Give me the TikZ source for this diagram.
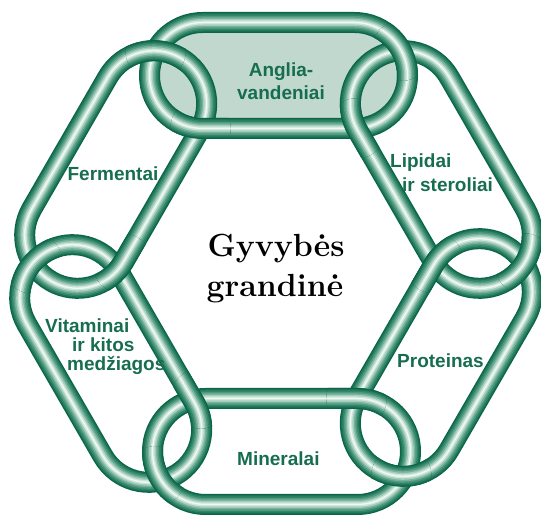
\documentclass[tikz,border=0pt]{standalone}
\usepackage{fontspec}
\newfontfamily\labelfont{Liberation Sans}
\definecolor{tA}{HTML}{0A654A}
\definecolor{tB}{HTML}{1B7459}
\definecolor{tC}{HTML}{338566}
\definecolor{tD}{HTML}{4F9A7E}
\definecolor{tE}{HTML}{76B29B}
\definecolor{tF}{HTML}{A3CDBC}
\definecolor{tG}{HTML}{CDE5DB}
\definecolor{tH}{HTML}{EEF7F3}
\definecolor{labelgreen}{HTML}{176D51}
\definecolor{linkfill}{HTML}{C0D8CE}
\newcommand{\tubepath}{(-76,-53) -- (76,-53) arc[start angle=-90,end angle=90,radius=53pt] -- (-76,53) arc[start angle=90,end angle=270,radius=53pt] -- cycle}
\newcommand{\drawtube}{\foreach \w/\c in {21/tA,18.5/tB,16/tC,13/tD,10/tE,7/tF,4/tG,1.5/tH}{\draw[line width=\w pt,color=\c] \tubepath;}}
\tikzset{
  linklabel/.style={font=\labelfont\bfseries\fontsize{19}{19}\selectfont, text=labelgreen, inner sep=0pt},
  centertitle/.style={font=\bfseries\fontsize{32}{40}\selectfont, text=black, inner sep=0pt}
}
\begin{document}
\begin{tikzpicture}[x=1pt,y=1pt]
\useasboundingbox (0,0) rectangle (541,522);
\coordinate (HC) at (278.5,258.5);
% fill of the top link
\begin{scope}[shift={(HC)}, shift={(0,188)}]
  \fill[linkfill] \tubepath;
\end{scope}
% all six links
\foreach \k/\dx/\dy in {0/0/0,1/0/0,2/0/0,3/3/0,4/-5/-6,5/0/0}{
  \begin{scope}[shift={(HC)}, shift={(\dx,\dy)}, rotate=-60*\k, shift={(0,188)}]
    \drawtube
  \end{scope}
}
% interlocking crossings
\foreach \k/\ax/\ay/\bx/\by in {0/0/0/0/0,1/0/0/0/0,2/0/0/3/0,3/3/0/-5/-6,4/-5/-6/0/0,5/0/0/0/0}{
  \begin{scope}[shift={(HC)}]
    \begin{scope}
      \clip (60-60*\k:245.7) circle[radius=30pt];
      \begin{scope}[shift={(\ax,\ay)}, rotate=-60*\k, shift={(0,188)}]
        \drawtube
      \end{scope}
    \end{scope}
    \begin{scope}
      \clip (60-60*\k:155.9) circle[radius=30pt];
      \begin{scope}[shift={(\bx,\by)}, rotate=-60*\k-60, shift={(0,188)}]
        \drawtube
      \end{scope}
    \end{scope}
  \end{scope}
}
% labels
\node[linklabel, anchor=base] (ang1) at (281,445) {Anglia-};
\node[linklabel, anchor=base] (ang2) at (281,422) {vandeniai};
\node[linklabel, anchor=base] (ferm) at (113,341) {Fermentai};
\node[linklabel, anchor=base west] (lip1) at (390,354) {Lipidai};
\node[linklabel, anchor=base west] (lip2) at (402,330) {ir steroliai};
\node[linklabel, anchor=base west] (vit1) at (45,189) {Vitaminai};
\node[linklabel, anchor=base west] (vit2) at (72,170) {ir kitos};
\node[linklabel, anchor=base west] (vit3) at (67,151) {medžiagos};
\node[linklabel, anchor=base west] (prot) at (397,154) {Proteinas};
\node[linklabel, anchor=base west] (min) at (237,56) {Mineralai};
\node[centertitle, anchor=base] (t1) at (276,265) {Gyvybės};
\node[centertitle, anchor=base] (t2) at (275,225) {grandinė};
\end{tikzpicture}
\end{document}
